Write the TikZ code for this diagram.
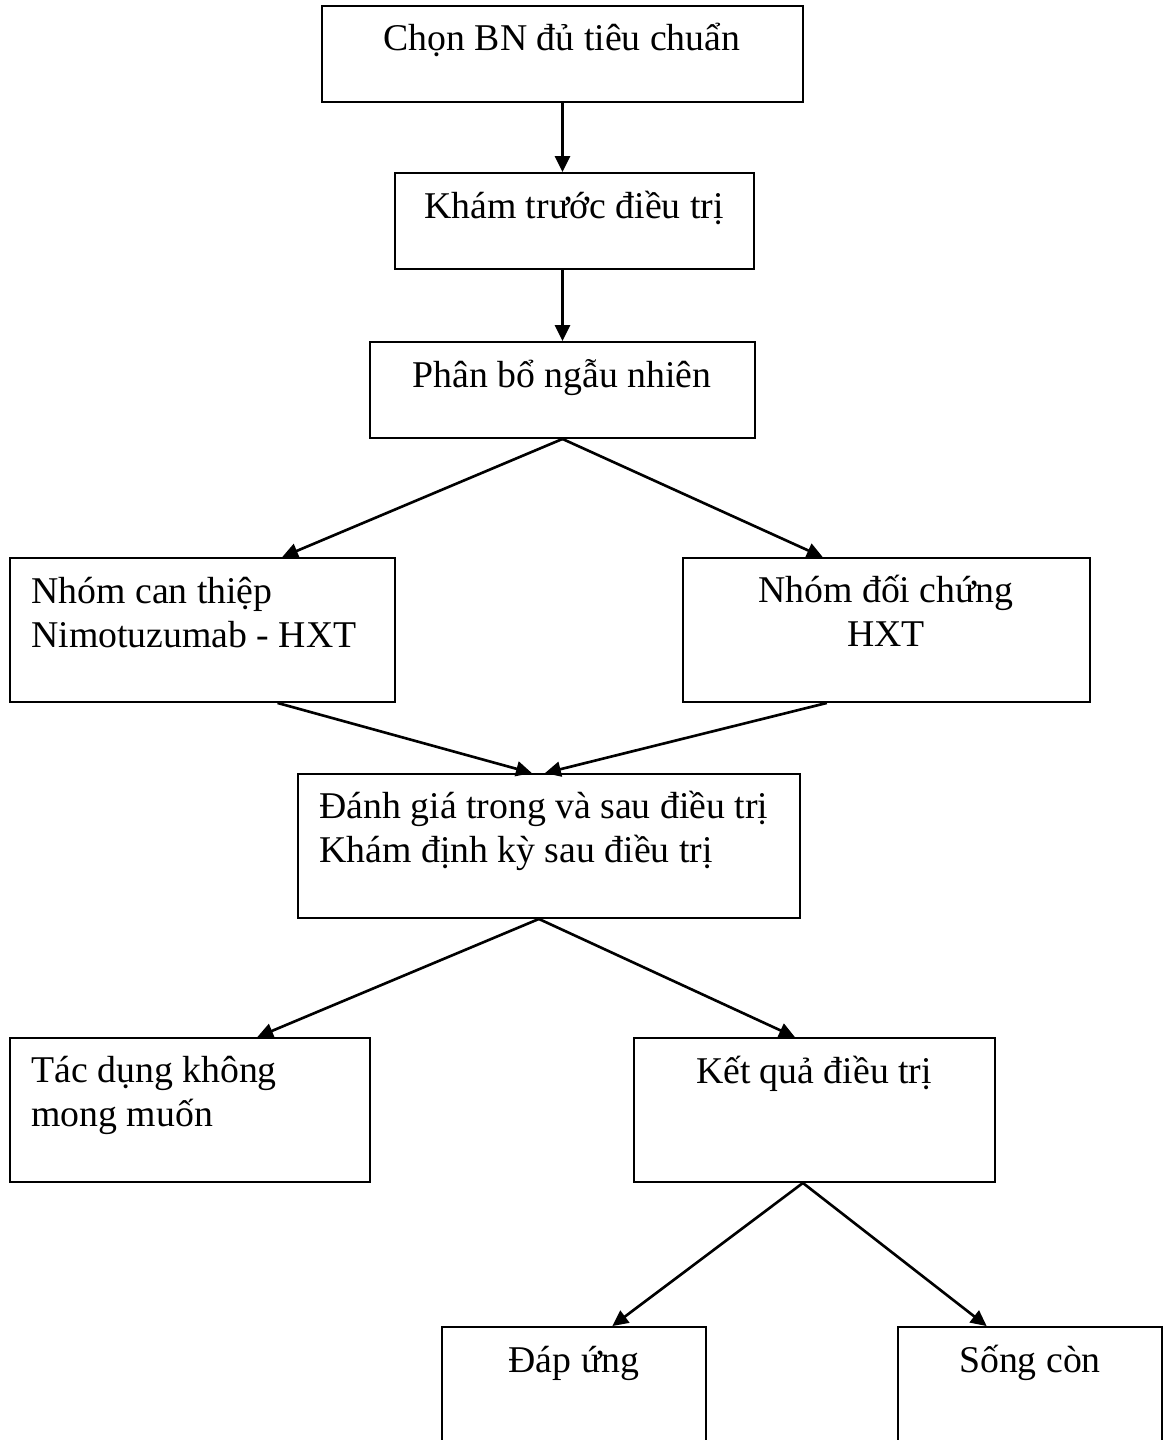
\documentclass[tikz,border=0pt]{standalone}
\usepackage{fontspec}
\setmainfont{Liberation Serif}
\usetikzlibrary{arrows.meta,calc}

\tikzset{
  box/.style={draw, line width=1.1pt, inner sep=0pt, minimum height=2.88cm},
  lbl/.style={inner sep=0pt, font=\fontsize{21.5}{25}\selectfont},
  flow/.style={-{Triangle[length=9pt,width=8.5pt]}, line width=1.5pt},
}

\begin{document}
\begin{tikzpicture}[x=0.02cm,y=-0.02cm]
  \path[use as bounding box, clip] (0,0) rectangle (1166,1440);
  % boxes
  \node[box, minimum width=9.62cm, minimum height=1.92cm] (chon) at (562.5,54) {};
  \node[box, minimum width=7.18cm, minimum height=1.92cm] (kham) at (574.5,221) {};
  \node[box, minimum width=7.7cm, minimum height=1.92cm] (phanbo) at (562.5,390) {};
  \node[box, minimum width=7.7cm] (canthiep) at (202.5,630) {};
  \node[box, minimum width=8.14cm] (doichung) at (886.5,630) {};
  \node[box, minimum width=10.04cm] (danhgia) at (549,846) {};
  \node[box, minimum width=7.2cm] (tacdung) at (190,1110) {};
  \node[box, minimum width=7.22cm] (ketqua) at (814.5,1110) {};
  \node[box, minimum width=5.28cm] (dapung) at (574,1399) {};
  \node[box, minimum width=5.28cm] (songcon) at (1030,1399) {};
  % texts (multi-line: base = last line)
  \node[lbl, anchor=base] (t-chon) at (562,51) {Chọn BN đủ tiêu chuẩn};
  \node[lbl, anchor=base] (t-kham) at (574,218) {Khám trước điều trị};
  \node[lbl, anchor=base] (t-phanbo) at (562,387) {Phân bổ ngẫu nhiên};
  \node[lbl, anchor=base west, align=left] (t-canthiep) at (31,647) {Nhóm can thiệp\\Nimotuzumab - HXT};
  \node[lbl, anchor=base, align=center] (t-doichung) at (886,646) {Nhóm đối chứng\\HXT};
  \node[lbl, anchor=base west, align=left] (t-danhgia) at (319,862) {Đánh giá trong và sau điều trị\\Khám định kỳ sau điều trị};
  \node[lbl, anchor=base west, align=left] (t-tacdung) at (31,1126) {Tác dụng không\\mong muốn};
  \node[lbl, anchor=base] (t-ketqua) at (814,1083) {Kết quả điều trị};
  \node[lbl, anchor=base] (t-dapung) at (574,1372) {Đáp ứng};
  \node[lbl, anchor=base] (t-songcon) at (1030,1372) {Sống còn};
  % arrows
  \draw[flow] (chon.south) -- (chon.south |- kham.north);
  \draw[flow] (phanbo.north |- kham.south) -- (phanbo.north);
  \draw[flow] (phanbo.south) -- ($(canthiep.north west)!.706!(canthiep.north east)$);
  \draw[flow] (phanbo.south) -- ($(doichung.north west)!.344!(doichung.north east)$);
  \draw[flow] ($(canthiep.south west)!.694!(canthiep.south east)$) -- ($(danhgia.north west)!.466!(danhgia.north east)$);
  \draw[flow] ($(doichung.south west)!.354!(doichung.south east)$) -- ($(danhgia.north west)!.492!(danhgia.north east)$);
  \draw[flow] ($(danhgia.south west)!.48!(danhgia.south east)$) -- ($(tacdung.north west)!.686!(tacdung.north east)$);
  \draw[flow] ($(danhgia.south west)!.48!(danhgia.south east)$) -- ($(ketqua.north west)!.446!(ketqua.north east)$);
  \draw[flow] ($(ketqua.south west)!.468!(ketqua.south east)$) -- ($(dapung.north west)!.644!(dapung.north east)$);
  \draw[flow] ($(ketqua.south west)!.468!(ketqua.south east)$) -- ($(songcon.north west)!.337!(songcon.north east)$);
\end{tikzpicture}
\end{document}
